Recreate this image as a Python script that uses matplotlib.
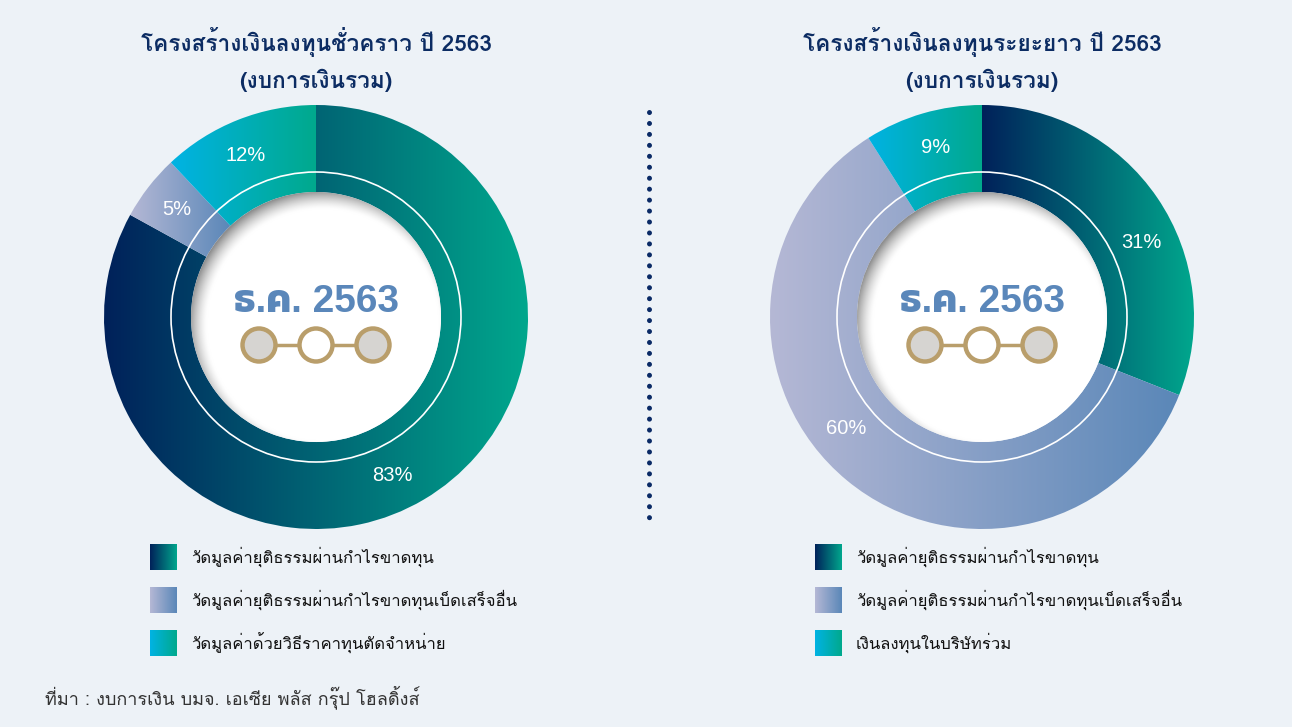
import numpy as np
import matplotlib
matplotlib.use("Agg")
import matplotlib.pyplot as plt
from matplotlib.patches import Wedge, Circle, Rectangle
from matplotlib.colors import to_rgb

# ---- data ----
short_title = "โครงสร้างเงินลงทุนชั่วคราว ปี 2563"
long_title = "โครงสร้างเงินลงทุนระยะยาว ปี 2563"
subtitle = "(งบการเงินรวม)"
center_label = "ธ.ค. 2563"

short_labels = ["วัดมูลค่ายุติธรรมผ่านกำไรขาดทุน",
                "วัดมูลค่ายุติธรรมผ่านกำไรขาดทุนเบ็ดเสร็จอื่น",
                "วัดมูลค่าด้วยวิธีราคาทุนตัดจำหน่าย"]
short_values = [83, 5, 12]

long_labels = ["วัดมูลค่ายุติธรรมผ่านกำไรขาดทุน",
               "วัดมูลค่ายุติธรรมผ่านกำไรขาดทุนเบ็ดเสร็จอื่น",
               "เงินลงทุนในบริษัทร่วม"]
long_values = [31, 60, 9]

source = "ที่มา : งบการเงิน บมจ. เอเซีย พลัส กรุ๊ป โฮลดิ้งส์"

# gradient pairs (left colour, right colour) per category
gradients = [("#00215a", "#00a78d"), ("#b5b8d5", "#5a87b8"), ("#00b3e4", "#00a98c")]
label_shift = {"short": [-5, 0, 2], "long": [-9, -11, -1]}  # degrees, label placement tweak

BG = "#edf2f7"
NAVY = "#0c2c63"
BLUE = "#5a87ba"
GOLD = "#b99e6b"

# Loma stacks Thai tone marks correctly without a shaping engine
THAI_FONT = ["Loma", "Noto Sans Thai", "DejaVu Sans"]
NUM_FONT = ["Liberation Sans", "DejaVu Sans"]
CENTER_FONT = ["Liberation Sans", "Kanit", "Loma", "DejaVu Sans"]

H = 727
fig = plt.figure(figsize=(12.92, 7.27), dpi=100, facecolor=BG)
ax = fig.add_axes([0, 0, 1, 1])
ax.set_facecolor(BG)


def Y(y):
    return H - y


def grad_fill(patch, c0, c1, z=2):
    patch.set_facecolor("none")
    patch.set_edgecolor("none")
    patch.set_zorder(z)
    ax.add_patch(patch)
    ext = patch.get_path().transformed(patch.get_patch_transform()).get_extents()
    g = np.linspace(0, 1, 256)[:, None]
    rgb = (1 - g) * np.array(to_rgb(c0)) + g * np.array(to_rgb(c1))
    im = ax.imshow(rgb[None, :, :], extent=[ext.x0, ext.x1, ext.y0, ext.y1],
                   origin="lower", aspect="auto", interpolation="bilinear", zorder=z)
    im.set_clip_path(patch)


def donut(cx, cy, values, shifts, title, labels, legend_x):
    r_out, r_in = 212, 125
    cy = Y(cy)
    start = 90.0
    for i, v in enumerate(values):
        t2 = start
        t1 = start - v * 3.6
        w = Wedge((cx, cy), r_out, t1, t2, width=r_out - r_in)
        grad_fill(w, *gradients[i])
        mid = np.deg2rad((t1 + t2) / 2 + shifts[i])
        ax.text(cx + 176 * np.cos(mid), cy + 176 * np.sin(mid), f"{v}%",
                color="white", fontsize=14.5, ha="center", va="center",
                family=NUM_FONT, zorder=5)
        start = t1

    # thin white ring
    ax.add_patch(Circle((cx, cy), 145, fill=False, ec="white", lw=1.2, zorder=4))

    # inner disc with inner shadow (top-left)
    n = 400
    xs = np.linspace(cx - r_in, cx + r_in, n)
    ys = np.linspace(cy - r_in, cy + r_in, n)
    X, Yg = np.meshgrid(xs, ys)
    d = np.hypot(X - (cx + 7), Yg - (cy - 8))
    s = np.clip((d - (r_in - 9)) / 19, 0, 1) ** 1.5
    val = 1 - 0.45 * s
    img = np.dstack([val, val, val])
    disc = Circle((cx, cy), r_in, fc="none", ec="none", zorder=4)
    ax.add_patch(disc)
    im = ax.imshow(img, extent=[cx - r_in, cx + r_in, cy - r_in, cy + r_in],
                   origin="lower", aspect="auto", interpolation="bilinear", zorder=4)
    im.set_clip_path(disc)

    ax.text(cx, cy + 15, center_label, color=BLUE, fontsize=28, fontweight="bold",
            ha="center", va="center", family=CENTER_FONT, zorder=6)
    # three linked rings
    ax.plot([cx - 57, cx + 57], [cy - 28, cy - 28], color=GOLD, lw=2.5, zorder=6)
    for k, fc in zip((-57, 0, 57), ("#d6d4d1", "white", "#d6d4d1")):
        ax.add_patch(Circle((cx + k, cy - 28), 16.5, fc=fc, ec=GOLD, lw=3.2, zorder=7))

    # titles
    ax.text(cx, Y(42), title, color=NAVY, fontsize=16.3, fontweight="bold",
            ha="center", va="center", family=THAI_FONT)
    ax.text(cx, Y(80), subtitle, color=NAVY, fontsize=16.3, fontweight="bold",
            ha="center", va="center", family=THAI_FONT)

    # legend
    for i, lab in enumerate(labels):
        yc = Y(557 + 43 * i)
        sq = Rectangle((legend_x, yc - 13.5), 27, 27)
        grad_fill(sq, *gradients[i], z=3)
        ax.text(legend_x + 41, yc, lab, color="#111111", fontsize=12,
                ha="left", va="center", family=THAI_FONT)


donut(316, 317, short_values, label_shift["short"], short_title, short_labels, 150)
donut(982, 317, long_values, label_shift["long"], long_title, long_labels, 815)

# dotted divider
ax.plot([649, 649], [Y(112), Y(528)], color="#0a2a66", lw=3.6,
        linestyle=(0, (0.01, 2.18)), dash_capstyle="round")

ax.text(45, Y(697), source, color="#333333", fontsize=13, ha="left", va="center",
        family=THAI_FONT)

ax.set_xlim(0, 1292)
ax.set_ylim(0, H)
ax.axis("off")
fig.savefig("out.png", dpi=100, facecolor=BG)
